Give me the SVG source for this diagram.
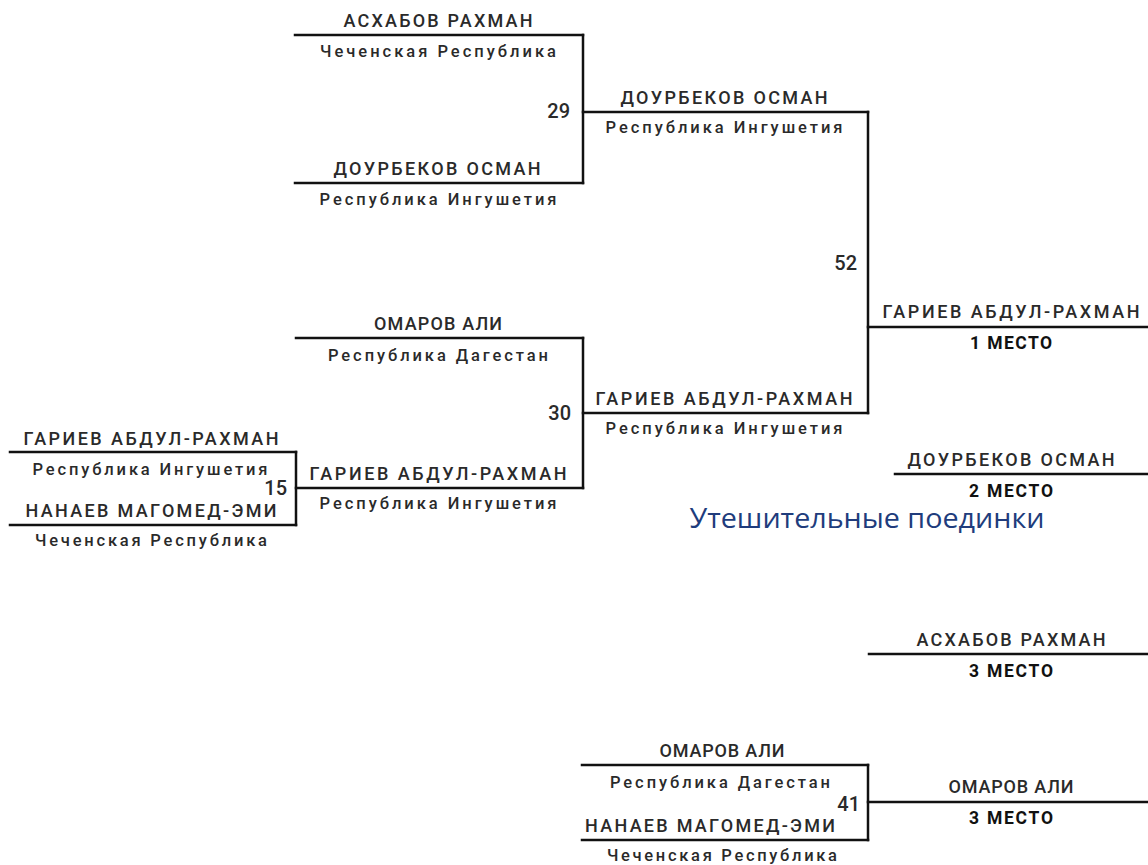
<svg xmlns="http://www.w3.org/2000/svg" width="1148" height="865" viewBox="0 0 1148 865">
<style>
  .bg { fill: #ffffff; }
  .ln { stroke: #111111; stroke-width: 2.5; fill: none; stroke-linecap: square; }
  .nm { font-family: Roboto, "Liberation Sans", sans-serif; font-size: 18px; font-weight: 500; fill: #2a2a2a; text-anchor: middle; }
  .sb { font-family: Roboto, "Liberation Sans", sans-serif; font-size: 16.5px; font-weight: 500; fill: #2a2a2a; text-anchor: middle; }
  .pl { font-family: Roboto, "Liberation Sans", sans-serif; font-size: 17.5px; font-weight: bold; fill: #111111; text-anchor: middle; }
  .no { font-family: Roboto, "Liberation Sans", sans-serif; font-size: 20px; font-weight: 500; fill: #2a2a2a; text-anchor: end; }
  .tt { font-family: "Open Sans", "Liberation Sans", sans-serif; font-size: 27px; font-weight: 500; fill: #203c7c; text-anchor: middle; }
</style>
<rect class="bg" x="0" y="0" width="1148" height="865"/>

<g id="connectors">
  <line class="ln" x1="583" y1="35" x2="583" y2="183"/>
  <line class="ln" x1="868" y1="112" x2="868" y2="413"/>
  <line class="ln" x1="583" y1="338" x2="583" y2="488"/>
  <line class="ln" x1="296" y1="452" x2="296" y2="525"/>
  <line class="ln" x1="868" y1="765" x2="868" y2="840"/>
  <text class="no" x="570" y="118">29</text>
  <text class="no" x="857" y="270">52</text>
  <text class="no" x="571" y="420">30</text>
  <text class="no" x="287" y="495">15</text>
  <text class="no" x="860" y="811">41</text>
</g>

<g id="s1">
  <line class="ln" x1="295" y1="35" x2="583" y2="35"/>
  <text class="nm" x="438" y="27" textLength="189" lengthAdjust="spacing">АСХАБОВ РАХМАН</text>
  <text class="sb" x="438" y="57" textLength="236" lengthAdjust="spacing">Чеченская Республика</text>
</g>
<g id="s2">
  <line class="ln" x1="295" y1="183" x2="583" y2="183"/>
  <text class="nm" x="437" y="175" textLength="207" lengthAdjust="spacing">ДОУРБЕКОВ ОСМАН</text>
  <text class="sb" x="438" y="205" textLength="237" lengthAdjust="spacing">Республика Ингушетия</text>
</g>
<g id="s3">
  <line class="ln" x1="583" y1="112" x2="868" y2="112"/>
  <text class="nm" x="724" y="104" textLength="207" lengthAdjust="spacing">ДОУРБЕКОВ ОСМАН</text>
  <text class="sb" x="724" y="133" textLength="237" lengthAdjust="spacing">Республика Ингушетия</text>
</g>
<g id="s4">
  <line class="ln" x1="296" y1="338" x2="583" y2="338"/>
  <text class="nm" x="438" y="330" textLength="128" lengthAdjust="spacing">ОМАРОВ АЛИ</text>
  <text class="sb" x="438" y="361" textLength="220" lengthAdjust="spacing">Республика Дагестан</text>
</g>
<g id="s5">
  <line class="ln" x1="296" y1="488" x2="583" y2="488"/>
  <text class="nm" x="438" y="480" textLength="257" lengthAdjust="spacing">ГАРИЕВ АБДУЛ-РАХМАН</text>
  <text class="sb" x="438" y="509" textLength="237" lengthAdjust="spacing">Республика Ингушетия</text>
</g>
<g id="s6">
  <line class="ln" x1="583" y1="413" x2="868" y2="413"/>
  <text class="nm" x="724" y="405" textLength="257" lengthAdjust="spacing">ГАРИЕВ АБДУЛ-РАХМАН</text>
  <text class="sb" x="724" y="434" textLength="237" lengthAdjust="spacing">Республика Ингушетия</text>
</g>
<g id="s7">
  <line class="ln" x1="10" y1="452" x2="296" y2="452"/>
  <text class="nm" x="151" y="445" textLength="255" lengthAdjust="spacing">ГАРИЕВ АБДУЛ-РАХМАН</text>
  <text class="sb" x="150" y="475" textLength="235" lengthAdjust="spacing">Республика Ингушетия</text>
</g>
<g id="s8">
  <line class="ln" x1="10" y1="525" x2="296" y2="525"/>
  <text class="nm" x="151" y="517" textLength="251" lengthAdjust="spacing">НАНАЕВ МАГОМЕД-ЭМИ</text>
  <text class="sb" x="151" y="546" textLength="232" lengthAdjust="spacing">Чеченская Республика</text>
</g>
<g id="s9">
  <line class="ln" x1="868" y1="327" x2="1148" y2="327"/>
  <text class="nm" x="1011" y="318" textLength="257" lengthAdjust="spacing">ГАРИЕВ АБДУЛ-РАХМАН</text>
  <text class="pl" x="1011" y="349" textLength="82" lengthAdjust="spacing">1 МЕСТО</text>
</g>
<g id="s10">
  <line class="ln" x1="895" y1="474" x2="1148" y2="474"/>
  <text class="nm" x="1011" y="466" textLength="207" lengthAdjust="spacing">ДОУРБЕКОВ ОСМАН</text>
  <text class="pl" x="1011" y="497" textLength="84" lengthAdjust="spacing">2 МЕСТО</text>
</g>
<g id="title">
  <text class="tt" x="867" y="528" textLength="355" lengthAdjust="spacingAndGlyphs">Утешительные поединки</text>
</g>
<g id="s11">
  <line class="ln" x1="869" y1="654" x2="1148" y2="654"/>
  <text class="nm" x="1011" y="646" textLength="189" lengthAdjust="spacing">АСХАБОВ РАХМАН</text>
  <text class="pl" x="1011" y="677" textLength="84" lengthAdjust="spacing">3 МЕСТО</text>
</g>
<g id="s12">
  <line class="ln" x1="582" y1="765" x2="868" y2="765"/>
  <text class="nm" x="722" y="757" textLength="125" lengthAdjust="spacing">ОМАРОВ АЛИ</text>
  <text class="sb" x="720" y="788" textLength="220" lengthAdjust="spacing">Республика Дагестан</text>
</g>
<g id="s13">
  <line class="ln" x1="582" y1="840" x2="868" y2="840"/>
  <text class="nm" x="710" y="832" textLength="250" lengthAdjust="spacing">НАНАЕВ МАГОМЕД-ЭМИ</text>
  <text class="sb" x="722" y="861" textLength="230" lengthAdjust="spacing">Чеченская Республика</text>
</g>
<g id="s14">
  <line class="ln" x1="868" y1="802" x2="1148" y2="802"/>
  <text class="nm" x="1011" y="793" textLength="125" lengthAdjust="spacing">ОМАРОВ АЛИ</text>
  <text class="pl" x="1011" y="824" textLength="84" lengthAdjust="spacing">3 МЕСТО</text>
</g>
</svg>
